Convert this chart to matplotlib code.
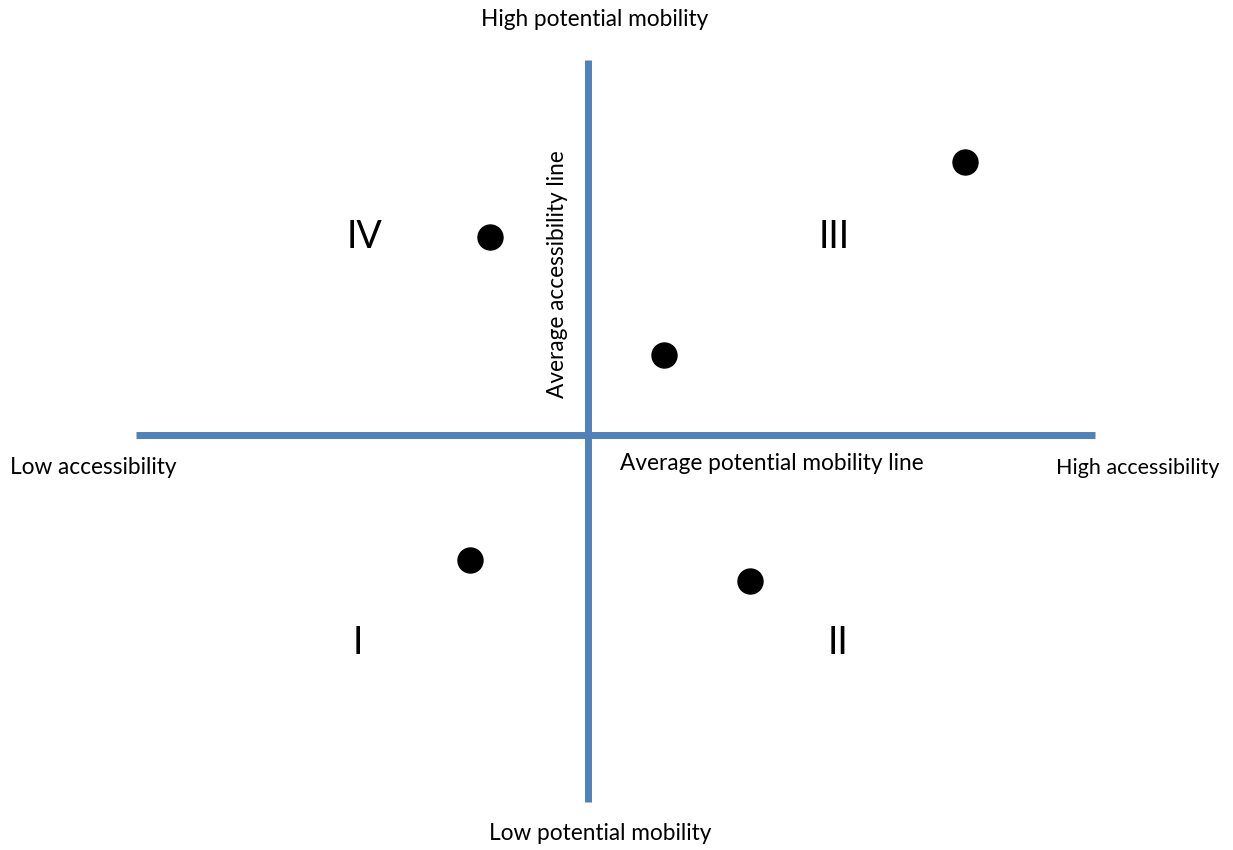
import matplotlib
matplotlib.use("Agg")
import matplotlib.pyplot as plt

plt.rcParams['font.family'] = ['Lato', 'DejaVu Sans']

# Data: positions relative to the averages (accessibility, potential mobility)
accessibility = [-0.98, 3.77, 0.76, -1.18, 1.62]
mobility = [1.98, 2.73, 0.80, -1.25, -1.46]

quadrant_labels = ["I", "II", "III", "IV"]
quadrant_x = [-2.30, 2.50, 2.46, -2.23]
quadrant_y = [-2.08, -2.08, 1.98, 1.98]

fig = plt.figure(figsize=(12.33, 8.5), dpi=100)
ax = fig.add_axes([0, 0, 1, 1])
ax.set_xlim(-5.88, 6.45)
ax.set_ylim(-4.15, 4.35)
ax.axis('off')

blue = '#4F81BD'
ax.plot([-4.52, 5.07], [0, 0], color=blue, lw=5, solid_capstyle='butt', zorder=1)
ax.plot([0, 0], [-3.67, 3.75], color=blue, lw=5, solid_capstyle='butt', zorder=1)

ax.plot(accessibility, mobility, 'o', color='black', markersize=18, zorder=3)

for lab, x, y in zip(quadrant_labels, quadrant_x, quadrant_y):
    ax.text(x, y, lab, fontsize=27, ha='center', va='center')

fs = 16.3
ax.text(0.07, 4.15, "High potential mobility", fontsize=fs, ha='center', va='center')
ax.text(0.12, -3.99, "Low potential mobility", fontsize=fs, ha='center', va='center')
ax.text(-5.78, -0.33, "Low accessibility", fontsize=fs, ha='left', va='center')
ax.text(6.32, -0.33, "High accessibility", fontsize=15.5, ha='right', va='center')
ax.text(0.32, -0.29, "Average potential mobility line", fontsize=fs, ha='left', va='center')
ax.text(-0.31, 1.61, "Average accessibility line", fontsize=fs, ha='center', va='center', rotation=90)

fig.savefig("out.png", dpi=100)
